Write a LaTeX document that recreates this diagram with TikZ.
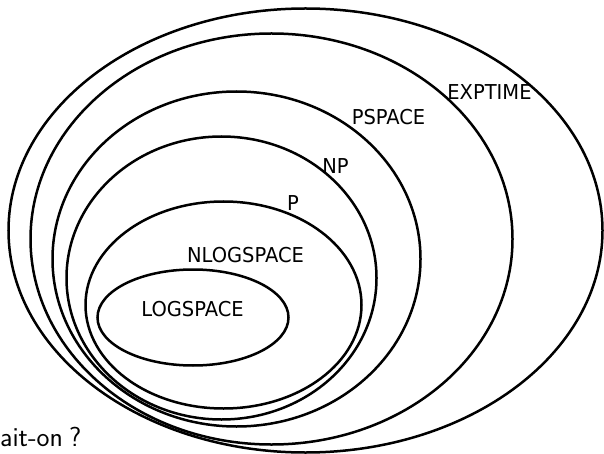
\documentclass[tikz,border=0pt]{standalone}
\usepackage{fontspec}
\usepackage{graphicx}
\usetikzlibrary{shapes.geometric}
\newfontfamily\labfont{DejaVu Sans}
\begin{document}
\begin{tikzpicture}[x=1pt,y=-1pt,
  cls/.style={draw=black, line width=2.5pt, ellipse, inner sep=0pt, outer sep=0pt},
  lab/.style={inner sep=0pt, font=\labfont\fontsize{20.5}{24}\selectfont}]
\useasboundingbox (0,0) rectangle (604,454);
\node[cls, minimum width=594pt, minimum height=444pt] (exptime) at (305.5,230.5) {};
\node[cls, minimum width=482pt, minimum height=411pt] (pspace) at (271.5,239) {};
\node[cls, minimum width=368pt, minimum height=335pt] (np) at (236.5,259) {};
\node[cls, minimum width=310pt, minimum height=283pt] (p) at (221.5,278) {};
\node[cls, minimum width=276pt, minimum height=207pt] (nlog) at (223.5,305) {};
\node[cls, minimum width=191pt, minimum height=96pt] (log) at (193,317.5) {};
\node[lab] (lexp) at (489.5,92.5) {\scalebox{0.95}[1]{EXPTIME}};
\node[lab] (lps) at (388.5,117.5) {\scalebox{0.95}[1]{PSPACE}};
\node[lab] (lnp) at (335.5,166) {\scalebox{0.95}[1]{NP}};
\node[lab] (lp) at (293,203.5) {\scalebox{0.95}[1]{P}};
\node[lab] (lnl) at (245.5,255.5) {\scalebox{0.95}[1]{NLOGSPACE}};
\node[lab] (llog) at (192.5,309.5) {\scalebox{0.95}[1]{LOGSPACE}};
\node[anchor=base west, inner sep=0pt, font=\sffamily\fontsize{27.5}{32}\selectfont] (title) at (0,446) {ait-on\:?};
\end{tikzpicture}
\end{document}
